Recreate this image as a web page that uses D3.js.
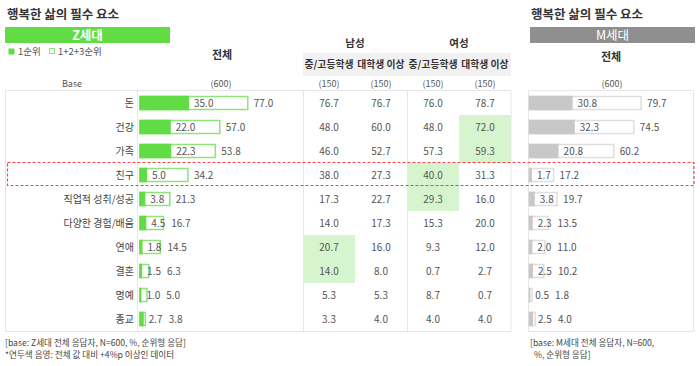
<!DOCTYPE html>
<html><head><meta charset="utf-8">
<script src="https://cdn.jsdelivr.net/npm/d3@7"></script>
<style>
body{margin:0;background:#fff}
svg{display:block}
text{font-family:"Noto Sans CJK KR","Noto Sans",sans-serif}
</style>
</head><body>
<svg id="c" width="700" height="366"></svg>
<script>
// ---------- data ----------
const categories = ["돈","건강","가족","친구","직업적 성취/성공","다양한 경험/배움","연애","결혼","명예","종교"];
const zFirst  = [35.0,22.0,22.3,5.0,3.8,4.5,1.8,1.5,1.0,2.7];
const zTop3   = [77.0,57.0,53.8,34.2,21.3,16.7,14.5,6.3,5.0,3.8];
const maleMid   = [76.7,48.0,46.0,38.0,17.3,14.0,20.7,14.0,5.3,3.3];
const maleUni   = [76.7,60.0,52.7,27.3,22.7,17.3,16.0,8.0,5.3,4.0];
const femaleMid = [76.0,48.0,57.3,40.0,29.3,15.3,9.3,0.7,8.7,4.0];
const femaleUni = [78.7,72.0,59.3,31.3,16.0,20.0,12.0,2.7,0.7,4.0];
const mFirst  = [30.8,32.3,20.8,1.7,3.8,2.3,2.0,2.5,0.5,2.5];
const mTop3   = [79.7,74.5,60.2,17.2,19.7,13.5,11.0,10.2,1.8,4.0];
const genders = ["남성","여성"];
const subgroups = ["중/고등학생","대학생 이상"];
const subColumns = [maleMid, maleUni, femaleMid, femaleUni];
const subBases = ["(150)","(150)","(150)","(150)"];
const zBase = "(600)";
const mBase = "(600)";
const highlightThreshold = 4; // +4%p vs total
const focusCategory = "친구";
const legendLabels = ["1순위","1+2+3순위"];
const title = "행복한 삶의 필수 요소";
const footZ = ["[base: Z세대 전체 응답자, N=600, %, 순위형 응답]","*연두색 음영: 전체 값 대비 +4%p 이상인 데이터"];
const footM = ["[base: M세대 전체 응답자, N=600,","%, 순위형 응답]"];

// ---------- style ----------
const GREEN = "#62dc44", GREEN_LINE = "#8ee37a", GREY = "#c8c8c8", GREY_LINE = "#dedede";
const HILITE = "#d6f5ce", RULE = "#e6e6e6", TXT = "#555", DARK = "#333";

const svg = d3.select("#c");

// scales
const y = d3.scaleBand().domain(categories).range([91, 331]);
const yc = c => y(c) + y.bandwidth()/2;
const xLen = d3.scaleLinear().domain([0, 100]).range([0, 140]);
const colX = d3.scaleBand().domain(d3.range(4)).range([303, 511]);
const zX0 = 140, mX0 = 529.5;
const barH = 13;

// titles
svg.append("text").attr("x",7).attr("y",19).attr("font-size",12.5).attr("font-weight","bold").attr("fill",DARK).text(title);
svg.append("text").attr("x",531).attr("y",19).attr("font-size",12.5).attr("font-weight","bold").attr("fill",DARK).text(title);

// banners
svg.append("rect").attr("x",5).attr("y",27).attr("width",165).attr("height",16).attr("fill",GREEN);
svg.append("text").attr("x",87.5).attr("y",35).attr("dy","0.36em").attr("text-anchor","middle").attr("font-size",12.5).attr("font-weight","bold").attr("fill","#fff").text("Z세대");
svg.append("rect").attr("x",530).attr("y",27).attr("width",165).attr("height",16).attr("fill","#8f8f8f");
svg.append("text").attr("x",612.5).attr("y",35).attr("dy","0.36em").attr("text-anchor","middle").attr("font-size",12.5).attr("fill","#fff").text("M세대");

// legend
svg.append("rect").attr("x",8.5).attr("y",48.5).attr("width",6).attr("height",6).attr("fill",GREEN);
svg.append("text").attr("x",18).attr("y",51.5).attr("dy","0.36em").attr("font-size",9.5).attr("fill",TXT).text(legendLabels[0]);
svg.append("rect").attr("x",49.5).attr("y",48.5).attr("width",5).attr("height",5).attr("fill","#fff").attr("stroke",GREEN_LINE);
svg.append("text").attr("x",58).attr("y",51.5).attr("dy","0.36em").attr("font-size",9.5).attr("fill",TXT).text(legendLabels[1]);

// headers
svg.append("text").attr("x",222).attr("y",55).attr("dy","0.36em").attr("text-anchor","middle").attr("font-size",11).attr("font-weight","bold").attr("fill",DARK).text("전체");
svg.append("text").attr("x",611).attr("y",57).attr("dy","0.36em").attr("text-anchor","middle").attr("font-size",11).attr("font-weight","bold").attr("fill",DARK).text("전체");
svg.append("rect").attr("x",303).attr("y",53).attr("width",208).attr("height",23).attr("fill","#f1f1f1");
genders.forEach((g,i)=>{
  svg.append("text").attr("x",colX(i*2)+colX.bandwidth()).attr("y",43.5).attr("dy","0.36em").attr("text-anchor","middle")
    .attr("font-size",10.5).attr("font-weight","bold").attr("fill",DARK).text(g);
});
d3.range(4).forEach(i=>{
  svg.append("text").attr("x",colX(i)+colX.bandwidth()/2).attr("y",64.5).attr("dy","0.36em").attr("text-anchor","middle")
    .attr("font-size",9.8).attr("font-weight","bold").attr("fill",DARK).text(subgroups[i%2]);
  svg.append("text").attr("x",colX(i)+colX.bandwidth()/2).attr("y",83.5).attr("dy","0.36em").attr("text-anchor","middle")
    .attr("font-size",9).attr("fill",TXT).text(subBases[i]);
});
svg.append("text").attr("x",72).attr("y",83.5).attr("dy","0.36em").attr("text-anchor","middle").attr("font-size",9).attr("fill",TXT).text("Base");
svg.append("text").attr("x",221).attr("y",83.5).attr("dy","0.36em").attr("text-anchor","middle").attr("font-size",9).attr("fill",TXT).text(zBase);
svg.append("text").attr("x",612).attr("y",83.5).attr("dy","0.36em").attr("text-anchor","middle").attr("font-size",9).attr("fill",TXT).text(mBase);

// highlight cells
subColumns.forEach((col,ci)=>{
  col.forEach((v,ri)=>{
    if (v >= zTop3[ri] + highlightThreshold) {
      svg.append("rect").attr("x",colX(ci)).attr("y",y(categories[ri])).attr("width",colX.bandwidth()).attr("height",y.bandwidth()).attr("fill",HILITE);
    }
  });
});

// table rules
const yTop = y.range()[0]-0.5, yBot = y.range()[1]+0.5;
const rule = (x1,y1,x2,y2)=>svg.append("line").attr("x1",x1).attr("y1",y1).attr("x2",x2).attr("y2",y2).attr("stroke",RULE).attr("stroke-width",1);
rule(5.5,yTop,511,yTop); rule(5.5,yBot,511,yBot);
[5.5,137.5,303.5,407.5,511].forEach(x=>rule(x,yTop,x,yBot));
rule(528.5,yTop,693.5,yTop); rule(528.5,yBot,693.5,yBot);
rule(528.5,yTop,528.5,yBot); rule(693.5,yTop,693.5,yBot);

// row labels
categories.forEach(c=>{
  svg.append("text").attr("x",134).attr("y",yc(c)).attr("dy","0.36em").attr("text-anchor","end").attr("font-size",10).attr("fill","#444").text(c);
});

// bars
function drawBars(x0, first, top3, fill, line){
  categories.forEach((c,i)=>{
    const yy = yc(c) - barH/2;
    const wO = xLen(top3[i]), wF = xLen(first[i]);
    svg.append("rect").attr("x",x0).attr("y",yy).attr("width",wO).attr("height",barH).attr("fill","#fff").attr("stroke",line).attr("stroke-width",1.5);
    svg.append("rect").attr("x",x0-0.75).attr("y",yy-0.75).attr("width",wF+0.75).attr("height",barH+1.5).attr("fill",fill);
    const t1 = svg.append("text").attr("x",x0+wF+5).attr("y",yc(c)).attr("dy","0.36em").attr("font-size",10).attr("fill",TXT).text(first[i].toFixed(1));
    const innerEnd = x0+wF+5+t1.node().getComputedTextLength();
    const ox = Math.max(x0+wO, innerEnd) + 6;
    svg.append("text").attr("x",ox).attr("y",yc(c)).attr("dy","0.36em").attr("font-size",10).attr("fill",TXT).text(top3[i].toFixed(1));
  });
}
drawBars(zX0, zFirst, zTop3, GREEN, GREEN_LINE);
drawBars(mX0, mFirst, mTop3, GREY, GREY_LINE);

// subgroup values
subColumns.forEach((col,ci)=>{
  col.forEach((v,ri)=>{
    svg.append("text").attr("x",colX(ci)+colX.bandwidth()/2).attr("y",yc(categories[ri])).attr("dy","0.36em").attr("text-anchor","middle")
      .attr("font-size",10).attr("fill",TXT).text(v.toFixed(1));
  });
});

// focus dashed box
svg.append("rect").attr("x",7.5).attr("y",y(focusCategory)-0.5).attr("width",686.5).attr("height",y.bandwidth()-1)
  .attr("fill","none").attr("stroke","#f04545").attr("stroke-width",1.2).attr("stroke-dasharray","3,2");

// footnotes
footZ.forEach((t,i)=>svg.append("text").attr("x",5).attr("y",345.5+i*12).attr("font-size",8.6).attr("fill","#444").text(t));
footM.forEach((t,i)=>svg.append("text").attr("x",i?534:530).attr("y",345.5+i*12).attr("font-size",8.6).attr("fill","#444").text(t));
</script>
</body></html>
